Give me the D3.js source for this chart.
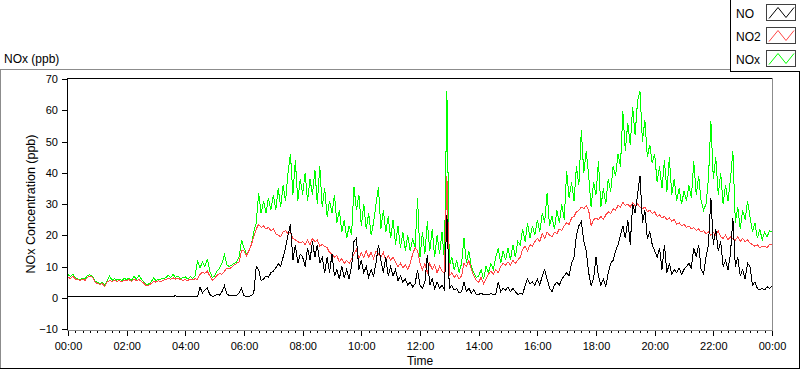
<!DOCTYPE html>
<html>
<head>
<meta charset="utf-8">
<script src="https://cdn.jsdelivr.net/npm/d3@7"></script>
<style>
  body { margin: 0; background: #fff; }
  svg { display: block; }
  text { font-family: "Liberation Sans", Arial, sans-serif; fill: #000; }
</style>
</head>
<body>
<div id="chart"></div>
<script>
/**
 * Data (5 minute samples, 00:00 -> 24:00)
 */
const timeMinutes = d3.range(0, 1441, 5);
const seriesNames = ['NO', 'NO2', 'NOx'];
const yTicks = [-10, 0, 10, 20, 30, 40, 50, 60, 70];
const xMajorTicks = [0, 120, 240, 360, 480, 600, 720, 840, 960, 1080, 1200, 1320, 1440];
const xTickLabels = ['00:00', '02:00', '04:00', '06:00', '08:00', '10:00', '12:00',
  '14:00', '16:00', '18:00', '20:00', '22:00', '00:00'];

const noValues = [
  0.3, 0.4, 0.3, 0.5, 0.3, 0.4, 0.3, 0.3, 0.5, 0.3, 0.4, 0.3,
  0.4, 0.3, 0.5, 0.3, 0.4, 0.3, 0.6, 0.3, 0.4, 0.3, 0.3, 0.5,
  0.3, 0.4, 0.3, 0.5, 0.3, 0.4, 0.3, 0.3, 0.4, 0.3, 0.5, 0.3,
  0.4, 0.3, 0.5, 0.4, 0.3, 0.4, 0.3, 0.5, 0.6, 0.3, 0.4, 0.3,
  0.4, 0.3, 0.5, 0.4, 0.3, 0.4, 3.4, 1.5, 2.5, 3.2, 1.0, 0.5,
  0.6, 1.0, 0.8, 2.0, 3.8, 1.2, 0.7, 0.6, 0.8, 0.7, 1.5, 3.0,
  0.7, 0.4, 0.5, 0.6, 1.5, 10, 9, 5.5, 6, 7, 6.5, 8,
  8.5, 9.5, 11, 10, 13, 16, 20, 23.5, 12, 17, 11, 14,
  13, 10, 16, 12, 18, 13, 17, 11, 13, 8, 13, 8,
  14, 7, 9, 6, 10, 6.5, 9, 6, 10, 18, 19, 9,
  12, 8, 10, 6.5, 9, 7, 11, 17, 12, 8, 13, 7,
  10, 7, 9, 5.5, 7, 5, 6, 4, 5, 3.5, 4.5, 9,
  4, 3, 5, 13.7, 4, 6, 3, 5, 3, 4, 2.5, 26.5,
  3, 4, 2.5, 3, 1.5, 2, 5, 2, 3, 1.5, 2.5, 1.2,
  1, 1.5, 0.9, 1.2, 1, 1.4, 0.9, 1.2, 5, 2, 3, 2.5,
  3.5, 2, 3, 2, 1, 1.5, 1, 4, 6, 4.5, 5, 4,
  6, 4, 7, 9, 6, 3, 2, 4, 5, 4, 6, 7,
  8, 7, 11, 13, 20, 23, 24.4, 18, 15, 8, 4, 6,
  13, 7, 4, 6, 3.5, 8, 11, 12, 15, 17, 20, 23,
  19, 25, 17, 30, 27, 33, 39, 24, 28, 19, 21, 17,
  15, 13, 16, 9, 17, 8, 11, 7.5, 9, 8, 9.5, 7.5,
  9, 10, 11, 9.5, 16, 13, 17, 9, 7.5, 13, 17, 32,
  17, 22, 15, 18, 10, 12, 9, 14, 25.5, 10, 13, 7,
  9, 6, 11, 10, 4, 5, 3, 2.5, 3, 2.5, 3.5, 3,
  3.8
];

const no2Values = [
  6.5, 6.2, 6.8, 6.0, 5.8, 5.5, 5.9, 5.6, 6.5, 7.0, 6.6, 5.0,
  4.6, 4.3, 4.5, 3.6, 5.0, 5.5, 5.2, 5.6, 5.3, 5.5, 5.1, 5.6,
  5.4, 5.8, 5.2, 6.0, 5.5, 5.8, 5.3, 4.6, 3.8, 4.0, 4.5, 5.2,
  5.0, 5.4, 5.1, 5.6, 5.8, 6.2, 5.9, 6.4, 6.0, 6.3, 5.8, 5.6,
  5.8, 5.5, 6.0, 5.7, 6.1, 5.9, 7.5, 8.2, 7.8, 8.5, 7.0, 5.6,
  6.2, 7.2, 7.8, 7.5, 8.5, 9.5, 9.2, 9.8, 10.5, 11, 11.5, 15,
  15, 13.5, 15, 17, 19.5, 22, 23.5, 22.5, 23, 22, 22.5, 21.5,
  22, 20.5, 20, 19.5, 21, 21.5, 20.5, 21, 19, 18.5, 18, 17.5,
  18, 17, 18.5, 17, 19, 18, 18.5, 16.5, 17, 16.5, 16, 14.5,
  14, 13, 13.5, 11.5, 12.5, 11, 12, 11, 12.5, 14, 15.5, 12.5,
  14.5, 13, 15, 13, 14.5, 12.5, 15, 14, 13, 14.5, 12, 13.5,
  12, 13, 11.5, 10, 11, 9.5, 10.5, 9, 11, 14, 16, 15,
  11, 9, 11, 8, 11, 9, 10.5, 8, 10, 8.5, 8, 39,
  7, 8, 6.5, 7.5, 6, 7, 11, 10, 12, 9, 7, 5.5,
  5, 6.5, 4.5, 6, 7.5, 8.5, 7.5, 9, 8, 10, 11, 10.5,
  11.5, 10.5, 12, 11, 12, 13, 15.5, 16.5, 15, 17, 16.5, 18,
  19, 18, 20.5, 19, 21, 20, 19.5, 21, 20.5, 22, 21.5, 23,
  24, 23.5, 25.5, 26, 27.5, 28, 29, 28.5, 29.5, 28, 23, 25,
  25.5, 25, 26, 25, 26.5, 27.5, 27, 28.5, 28, 29.5, 29, 30.5,
  29.5, 30, 29, 30.5, 29.5, 30, 29, 28.5, 29, 27.5, 28, 27,
  27.5, 26, 26.5, 25.5, 26, 25, 25.5, 24.5, 25, 23.5, 24, 23,
  23.5, 22.5, 23, 22, 22.5, 21.5, 22, 21, 21.5, 20.5, 21, 20,
  21, 20, 21.5, 19.5, 19, 20, 18.5, 19.5, 19, 18.5, 19.5, 18,
  19, 18, 18.5, 17.5, 17, 16.5, 17, 16, 16.5, 16.5, 16, 17,
  17
];

const noxValues = [
  7.4, 6.8, 7.5, 6.4, 6.0, 5.8, 6.3, 6.0, 7.2, 7.3, 6.9, 5.4,
  4.9, 4.6, 4.8, 4.0, 5.4, 6.9, 5.6, 6.1, 5.6, 6.0, 5.5, 6.2,
  5.8, 6.3, 5.6, 6.9, 5.9, 7.2, 6.0, 5.0, 4.2, 4.4, 5.0, 6.3,
  5.5, 5.9, 6.0, 6.2, 6.4, 7.3, 6.5, 7.5, 6.5, 7.0, 6.2, 6.4,
  6.7, 6.0, 6.8, 6.2, 7.0, 12, 9.5, 11.5, 10, 12.5, 8.5, 6.5,
  7.0, 8.5, 9.5, 11, 13.7, 10.5, 10, 10.5, 11, 11.5, 13, 18.5,
  16, 14, 15, 17, 21, 24, 33.5, 27, 31, 27, 32, 28,
  33, 28, 35, 29, 36, 31, 40, 46, 33, 44, 31, 38,
  33, 40, 31, 38, 33, 41, 30, 42, 29, 35, 26, 31,
  27, 33, 24, 28, 21, 25, 19, 23, 20, 35.5, 28, 33,
  23, 30, 22, 27, 20, 24, 30, 35.5, 22, 28, 21, 26,
  19, 25, 17, 23, 16, 21, 15, 20, 15, 19, 16, 32,
  13, 21, 14, 24.4, 15, 22, 13, 20, 14, 21, 12, 66,
  10, 13, 9, 12, 8, 11, 19, 11, 15, 10, 8, 6.5,
  7, 9, 6, 10, 8, 11, 9, 13, 15.8, 11, 15, 12,
  16, 12, 17, 13, 18, 17, 22, 18, 24, 19, 23, 20,
  25, 21, 27, 24, 33.5, 23, 26, 22, 28, 24, 30, 25,
  40.4, 32, 37, 31, 42, 36, 53.7, 40, 47, 39, 29, 37,
  33, 43.6, 29, 35, 30, 38, 34, 42, 39, 46, 42, 59.6,
  47, 56, 49, 61, 52, 63, 66, 50, 57, 45, 49, 43,
  46, 37, 42, 35, 44, 34, 45, 33, 38, 31, 35, 30,
  34, 31, 36, 32, 43.6, 33, 39, 31, 28, 30, 38, 56.4,
  38, 45, 33, 40, 30, 36, 31, 38, 46.8, 24, 29, 22,
  28, 25, 31, 26, 21, 24, 19, 22, 18.5, 21, 19.5, 21.5,
  21
];

/**
 * Basic settings
 */
const canvasWidth = 800;
const canvasHeight = 369;
const plot = { left: 68, right: 772, top: 79, bottom: 329 };
const colorPalette = { NO: '#000000', NO2: '#ff4646', NOx: '#00ff00' };

const svg = d3.select('#chart')
  .append('svg')
  .attr('width', canvasWidth)
  .attr('height', canvasHeight);

const x = d3.scaleLinear().domain([0, 1440]).range([plot.left, plot.right]);
const y = d3.scaleLinear().domain([-10, 70]).range([plot.bottom, plot.top]);

// helper for 1px frame lines
function hline(x1, x2, yy, color) {
  svg.append('line').attr('x1', x1).attr('x2', x2).attr('y1', yy).attr('y2', yy)
    .attr('stroke', color).attr('shape-rendering', 'crispEdges');
}
function vline(xx, y1, y2, color) {
  svg.append('line').attr('x1', xx).attr('x2', xx).attr('y1', y1).attr('y2', y2)
    .attr('stroke', color).attr('shape-rendering', 'crispEdges');
}

/**
 * Outer frame + title
 */
hline(0, 731, 69.5, '#8c8c8c');
vline(0.5, 69, 369, '#8c8c8c');
vline(799.5, 72, 369, '#000');
hline(0, 800, 368.5, '#000');

svg.append('text')
  .attr('x', 4)
  .attr('y', 63)
  .style('font-size', '12px')
  .text('NOx (ppb)');

/**
 * Data lines (drawn NOx first so NO sits on top)
 */
const lineGen = d3.line()
  .x(function(d, i) { return x(timeMinutes[i]); })
  .y(function(d) { return y(d); });

const seriesValues = { NO: noValues, NO2: no2Values, NOx: noxValues };

svg.append('g')
  .selectAll('path')
  .data(['NOx', 'NO2', 'NO'])
  .join('path')
  .attr('d', function(k) { return lineGen(seriesValues[k]); })
  .attr('fill', 'none')
  .attr('stroke', function(k) { return colorPalette[k]; })
  .attr('stroke-width', 1)
  .attr('shape-rendering', 'crispEdges');

/**
 * Plot frame
 */
hline(67, 773, 78.5, '#000');
vline(67.5, 78, 331, '#000');
vline(772.5, 78, 331, '#8c8c8c');
hline(67, 773, 330.5, '#8c8c8c');

/**
 * Axes
 */
const yAxis = d3.axisLeft(y)
  .tickValues(yTicks)
  .tickSize(5)
  .tickPadding(4)
  .tickFormat(d3.format('d'));

const gy = svg.append('g')
  .attr('transform', 'translate(67, 0)')
  .call(yAxis);
gy.select('.domain').remove();
gy.selectAll('text').style('font-size', '11px').attr('font-family', null);

const minorTicks = d3.range(0, 1441, 15).filter(function(m) { return m % 120 !== 0; });

const gxMinor = svg.append('g')
  .attr('transform', 'translate(0, 331)')
  .call(d3.axisBottom(x).tickValues(minorTicks).tickSize(2).tickFormat(''));
gxMinor.select('.domain').remove();

const xAxis = d3.axisBottom(x)
  .tickValues(xMajorTicks)
  .tickSize(5)
  .tickPadding(6)
  .tickFormat(function(d, i) { return xTickLabels[i]; });

const gx = svg.append('g')
  .attr('transform', 'translate(0, 331)')
  .call(xAxis);
gx.select('.domain').remove();
gx.selectAll('text').style('font-size', '11px').attr('font-family', null);
svg.selectAll('.tick line').attr('stroke', '#000').attr('shape-rendering', 'crispEdges');

svg.append('text')
  .attr('x', (plot.left + plot.right) / 2)
  .attr('y', 365)
  .attr('text-anchor', 'middle')
  .style('font-size', '12px')
  .text('Time');

svg.append('text')
  .attr('transform', 'translate(35, ' + ((plot.top + plot.bottom) / 2) + ') rotate(-90)')
  .attr('text-anchor', 'middle')
  .style('font-size', '12.5px')
  .text('NOx Concentration (ppb)');

/**
 * Legend
 */
svg.append('rect')
  .attr('x', 730.5).attr('y', -1)
  .attr('width', 70).attr('height', 72.5)
  .attr('fill', '#fff').attr('stroke', '#000')
  .attr('shape-rendering', 'crispEdges');

const legend = svg.append('g')
  .selectAll('g')
  .data(seriesNames)
  .join('g')
  .attr('transform', function(d, i) { return 'translate(0, ' + (i * 23) + ')'; });

legend.append('text')
  .attr('x', 736)
  .attr('y', 17.5)
  .style('font-size', '12px')
  .text(function(d) { return d; });

legend.append('rect')
  .attr('x', 766.5).attr('y', 4.5)
  .attr('width', 29).attr('height', 16)
  .attr('fill', '#fff').attr('stroke', '#404040')
  .attr('shape-rendering', 'crispEdges');

legend.append('path')
  .attr('d', 'M769,18.5 L778,7.5 L786,17.5 L794,7.5')
  .attr('fill', 'none')
  .attr('stroke', function(d) { return colorPalette[d]; });
</script>
</body>
</html>
